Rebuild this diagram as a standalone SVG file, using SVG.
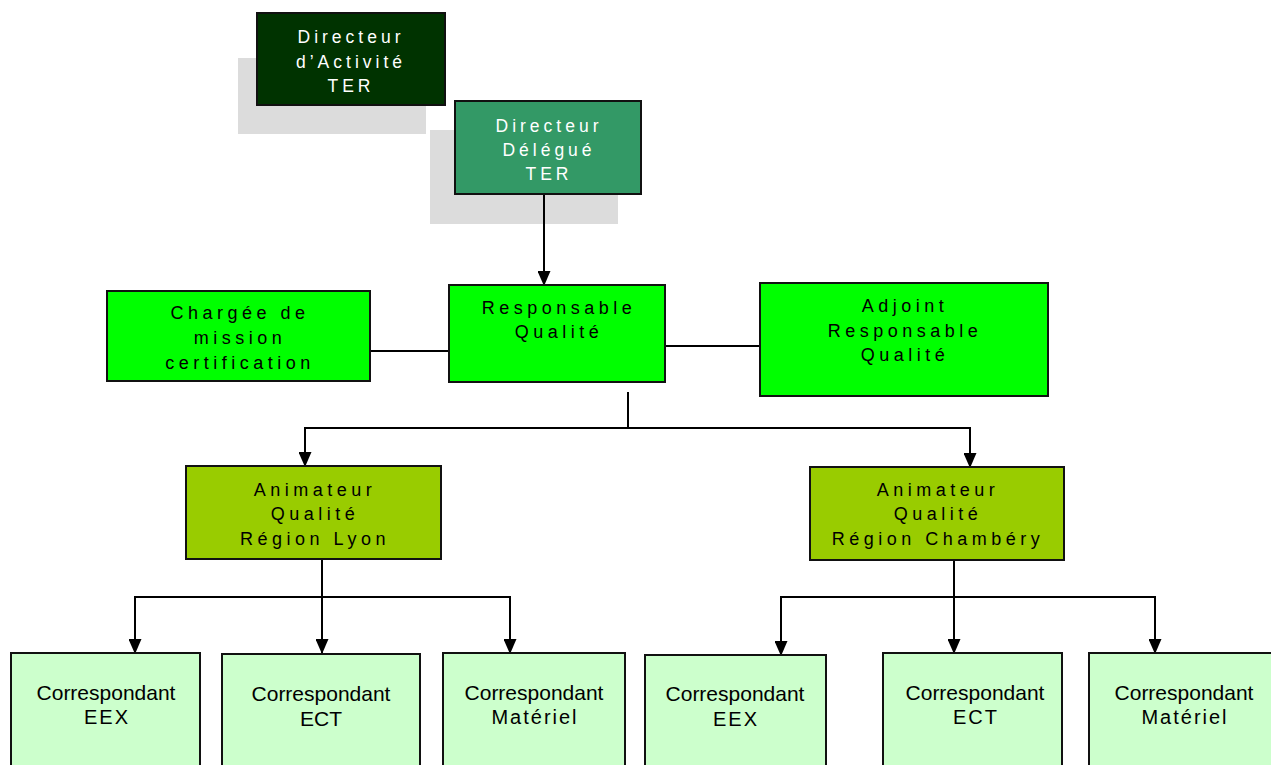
<svg xmlns="http://www.w3.org/2000/svg" width="1271" height="765" viewBox="0 0 1271 765">
<style>
.box{stroke:#111;stroke-width:2}
.shadow{fill:#dcdcdc}
.t{font-family:"Liberation Sans",Arial,sans-serif;font-size:18px;letter-spacing:4.5px;text-anchor:middle;fill:#000}
.tw{font-family:"Liberation Sans",Arial,sans-serif;font-size:17.5px;letter-spacing:4px;text-anchor:middle;fill:#fff}
.tc{font-family:"Liberation Sans",Arial,sans-serif;font-size:21px;text-anchor:middle;fill:#000}
.ts{font-family:"Liberation Sans",Arial,sans-serif;font-size:20px;letter-spacing:2px;text-anchor:middle;fill:#000}
.ln{stroke:#000;stroke-width:2;fill:none}
</style>
<defs>
<marker id="arr" markerWidth="15" markerHeight="13" refX="14" refY="6.5" orient="auto" markerUnits="userSpaceOnUse" viewBox="0 0 15 13">
<path d="M0,0 L15,6.5 L0,13 Z" fill="#000"/>
</marker>
</defs>
<rect width="1271" height="765" fill="#fff"/>
<g id="shadows">
<rect class="shadow" x="238" y="58" width="188" height="76"/>
<rect class="shadow" x="430" y="130" width="188" height="94"/>
</g>
<g id="connectors">
<path class="ln" d="M544,194 V285" marker-end="url(#arr)"/>
<path class="ln" d="M370,351 H449"/>
<path class="ln" d="M665,346 H760"/>
<path class="ln" d="M628,392 V428"/>
<path class="ln" d="M628,428 H305 V466" marker-end="url(#arr)"/>
<path class="ln" d="M628,428 H970 V467" marker-end="url(#arr)"/>
<path class="ln" d="M322,559 V653" marker-end="url(#arr)"/>
<path class="ln" d="M322,597 H135 V653" marker-end="url(#arr)"/>
<path class="ln" d="M322,597 H510 V653" marker-end="url(#arr)"/>
<path class="ln" d="M954,560 V653" marker-end="url(#arr)"/>
<path class="ln" d="M954,597 H781 V655" marker-end="url(#arr)"/>
<path class="ln" d="M954,597 H1155 V653" marker-end="url(#arr)"/>
</g>
<g id="n-directeur-activite">
<rect class="box" x="257" y="13" width="188" height="92" fill="#003300"/>
<text class="tw" x="351" y="43">Directeur</text>
<text class="tw" x="351" y="68">d’Activité</text>
<text class="tw" x="351" y="92">TER</text>
</g>
<g id="n-directeur-delegue">
<rect class="box" x="455" y="101" width="186" height="93" fill="#339966"/>
<text class="tw" x="549" y="132">Directeur</text>
<text class="tw" x="549" y="156">Délégué</text>
<text class="tw" x="549" y="180">TER</text>
</g>
<g id="n-chargee">
<rect class="box" x="107" y="291" width="263" height="90" fill="#00ff00"/>
<text class="t" x="240" y="319">Chargée de</text>
<text class="t" x="240" y="344">mission</text>
<text class="t" x="240" y="369">certification</text>
</g>
<g id="n-responsable">
<rect class="box" x="449" y="285" width="216" height="97" fill="#00ff00"/>
<text class="t" x="559" y="314">Responsable</text>
<text class="t" x="559" y="338">Qualité</text>
</g>
<g id="n-adjoint">
<rect class="box" x="760" y="283" width="288" height="113" fill="#00ff00"/>
<text class="t" x="905" y="312">Adjoint</text>
<text class="t" x="905" y="337">Responsable</text>
<text class="t" x="905" y="361">Qualité</text>
</g>
<g id="n-anim-lyon">
<rect class="box" x="186" y="466" width="255" height="93" fill="#99cc00"/>
<text class="t" x="315" y="496">Animateur</text>
<text class="t" x="315" y="520">Qualité</text>
<text class="t" x="315" y="545">Région Lyon</text>
</g>
<g id="n-anim-chambery">
<rect class="box" x="810" y="467" width="254" height="93" fill="#99cc00"/>
<text class="t" x="938" y="496">Animateur</text>
<text class="t" x="938" y="520">Qualité</text>
<text class="t" x="938" y="545">Région Chambéry</text>
</g>
<g id="n-lyon-eex">
<rect class="box" x="11" y="653" width="189" height="130" fill="#ccffcc"/>
<text class="tc" x="106" y="700">Correspondant</text>
<text class="ts" x="107" y="724">EEX</text>
</g>
<g id="n-lyon-ect">
<rect class="box" x="222" y="654" width="198" height="130" fill="#ccffcc"/>
<text class="tc" x="321" y="701">Correspondant</text>
<text class="tc" x="321" y="726">ECT</text>
</g>
<g id="n-lyon-mat">
<rect class="box" x="443" y="653" width="182" height="130" fill="#ccffcc"/>
<text class="tc" x="534" y="700">Correspondant</text>
<text class="ts" x="535" y="724">Matériel</text>
</g>
<g id="n-ch-eex">
<rect class="box" x="645" y="655" width="181" height="130" fill="#ccffcc"/>
<text class="tc" x="735" y="701">Correspondant</text>
<text class="ts" x="736" y="726">EEX</text>
</g>
<g id="n-ch-ect">
<rect class="box" x="883" y="653" width="179" height="130" fill="#ccffcc"/>
<text class="tc" x="975" y="700">Correspondant</text>
<text class="ts" x="976" y="724">ECT</text>
</g>
<g id="n-ch-mat">
<rect class="box" x="1089" y="653" width="185" height="130" fill="#ccffcc"/>
<text class="tc" x="1184" y="700">Correspondant</text>
<text class="ts" x="1185" y="724">Matériel</text>
</g>
</svg>
